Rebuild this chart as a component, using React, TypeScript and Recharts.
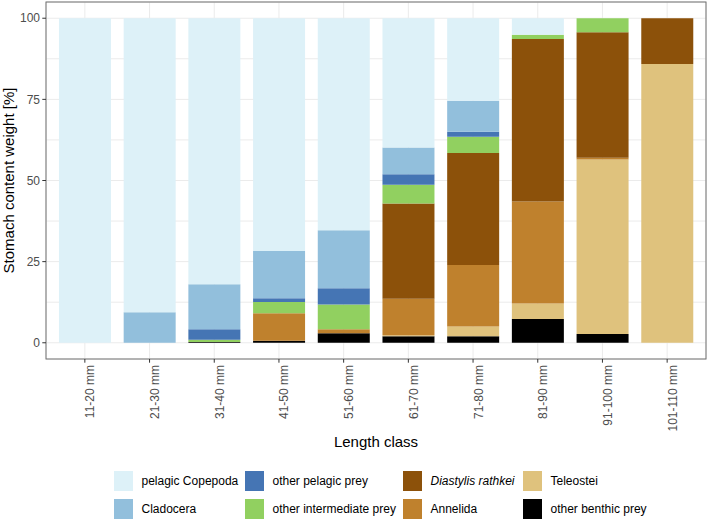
import { BarChart, Bar, XAxis, YAxis, CartesianGrid, Legend } from 'recharts';

const lengthClasses = ['11-20 mm', '21-30 mm', '31-40 mm', '41-50 mm', '51-60 mm', '61-70 mm', '71-80 mm', '81-90 mm', '91-100 mm', '101-110 mm'];

// stacked bottom -> top
const otherBenthic = [0, 0, 0.2, 0.6, 2.9, 2.0, 2.0, 7.3, 2.7, 0];
const teleostei = [0, 0, 0, 0, 0, 0.3, 3.0, 4.8, 53.8, 85.9];
const annelida = [0, 0, 0, 8.5, 1.3, 11.3, 19.0, 31.4, 0.5, 0];
const diastylis = [0, 0, 0, 0, 0, 29.3, 34.5, 50.1, 38.7, 14.1];
const otherIntermediate = [0, 0, 0.7, 3.5, 7.6, 5.8, 5.0, 1.3, 4.3, 0];
const otherPelagic = [0, 0, 3.3, 1.1, 5.0, 3.2, 1.5, 0, 0, 0];
const cladocera = [0, 9.4, 13.8, 14.6, 17.9, 8.3, 9.6, 0, 0, 0];
const pelagicCopepoda = [100, 90.6, 82.0, 71.7, 65.3, 39.8, 25.4, 5.1, 0, 0];

const yTicks = [0, 25, 50, 75, 100];

const series = [
  { key: 'otherBenthic', name: 'other benthic prey', values: otherBenthic, color: '#000000' },
  { key: 'teleostei', name: 'Teleostei', values: teleostei, color: '#dfc27d' },
  { key: 'annelida', name: 'Annelida', values: annelida, color: '#bf812d' },
  { key: 'diastylis', name: 'Diastylis rathkei', values: diastylis, color: '#8c510a', italic: true },
  { key: 'otherIntermediate', name: 'other intermediate prey', values: otherIntermediate, color: '#91d060' },
  { key: 'otherPelagic', name: 'other pelagic prey', values: otherPelagic, color: '#4575b4' },
  { key: 'cladocera', name: 'Cladocera', values: cladocera, color: '#92bfdc' },
  { key: 'pelagicCopepoda', name: 'pelagic Copepoda', values: pelagicCopepoda, color: '#ddf1f8' },
];

const data = lengthClasses.map((name, i) => {
  const row: Record<string, string | number> = { name };
  series.forEach((s) => (row[s.key] = s.values[i]));
  return row;
});

// minor grid lines halfway between the labelled ticks
const gridTicks = yTicks.flatMap((t, i) => (i < yTicks.length - 1 ? [t, (t + yTicks[i + 1]) / 2] : [t]));

const FONT = '"Liberation Sans", Arial, sans-serif';
const PLOT_LEFT = 46;
const PLOT_TOP = 2;
const PLOT_RIGHT = 706;
const PLOT_BOTTOM = 359;

const XTick = (props: any) => {
  const { x, payload } = props;
  return (
    <g>
      <line x1={x} x2={x} y1={PLOT_BOTTOM} y2={PLOT_BOTTOM + 3.7} stroke="#333333" strokeWidth={1} />
      <text x={x + 9.5} y={PLOT_BOTTOM + 6} transform={`rotate(-90, ${x + 9.5}, ${PLOT_BOTTOM + 6})`} textAnchor="end" fill="#4d4d4d" fontSize={12} fontFamily={FONT}>
        {payload.value}
      </text>
    </g>
  );
};

const YTick = (props: any) => {
  const { y, payload } = props;
  if (!yTicks.includes(payload.value)) return <g />;
  return (
    <g>
      <line x1={PLOT_LEFT - 3.7} x2={PLOT_LEFT} y1={y} y2={y} stroke="#333333" strokeWidth={1} />
      <text x={PLOT_LEFT - 6} y={y} dy={4.2} textAnchor="end" fill="#4d4d4d" fontSize={12} fontFamily={FONT}>
        {payload.value}
      </text>
    </g>
  );
};

const legendOrder = ['pelagicCopepoda', 'cladocera', 'otherPelagic', 'otherIntermediate', 'diastylis', 'annelida', 'teleostei', 'otherBenthic'];
const legendCols = [114, 245, 403, 523];
const legendRows = [5, 33];

const LegendBox = () => (
  <div style={{ position: 'relative', width: 709, height: 54, fontFamily: FONT, fontSize: 12 }}>
    {legendOrder.map((key, i) => {
      const s = series.find((d) => d.key === key)!;
      const left = legendCols[Math.floor(i / 2)];
      const top = legendRows[i % 2];
      return (
        <div key={key}>
          <div style={{ position: 'absolute', left, top, width: 19, height: 20, background: s.color }} />
          <div style={{ position: 'absolute', left: left + 27.5, top, height: 20, lineHeight: '20px', color: '#000', whiteSpace: 'nowrap', fontStyle: s.italic ? 'italic' : 'normal' }}>
            {s.name}
          </div>
        </div>
      );
    })}
  </div>
);

export default function App() {
  return (
    <div style={{ position: 'absolute', left: 0, top: 0, width: 709, height: 520, background: '#fff' }}>
      <BarChart width={709} height={520} data={data} margin={{ top: PLOT_TOP, right: 709 - PLOT_RIGHT, left: 0, bottom: 0 }} barCategoryGap="10%">
        <CartesianGrid stroke="#ebebeb" strokeWidth={1} />
        <XAxis
          dataKey="name"
          height={107}
          padding={{ left: 6.5, right: 6.5 }}
          tickLine={false}
          axisLine={false}
          interval={0}
          tick={<XTick />}
          label={{
            content: () => (
              <text x={(PLOT_LEFT + PLOT_RIGHT) / 2} y={447} textAnchor="middle" fill="#000" fontSize={15} fontFamily={FONT}>
                Length class
              </text>
            ),
          }}
        />
        <YAxis
          width={PLOT_LEFT}
          domain={[-5, 105]}
          ticks={gridTicks}
          interval={0}
          allowDataOverflow
          tickLine={false}
          axisLine={false}
          tick={<YTick />}
          label={{
            content: () => (
              <text x={14} y={(PLOT_TOP + PLOT_BOTTOM) / 2} transform={`rotate(-90, 14, ${(PLOT_TOP + PLOT_BOTTOM) / 2})`} textAnchor="middle" fill="#000" fontSize={15} fontFamily={FONT}>
                Stomach content weight [%]
              </text>
            ),
          }}
        />
        {series.map((s) => (
          <Bar key={s.key} dataKey={s.key} name={s.name} stackId="diet" fill={s.color} isAnimationActive={false} />
        ))}
        <Legend verticalAlign="bottom" content={<LegendBox />} wrapperStyle={{ left: 0, width: 709, height: 54 }} />
        <rect x={PLOT_LEFT} y={PLOT_TOP} width={PLOT_RIGHT - PLOT_LEFT} height={PLOT_BOTTOM - PLOT_TOP} fill="none" stroke="#707070" strokeWidth={1} />
      </BarChart>
    </div>
  );
}
